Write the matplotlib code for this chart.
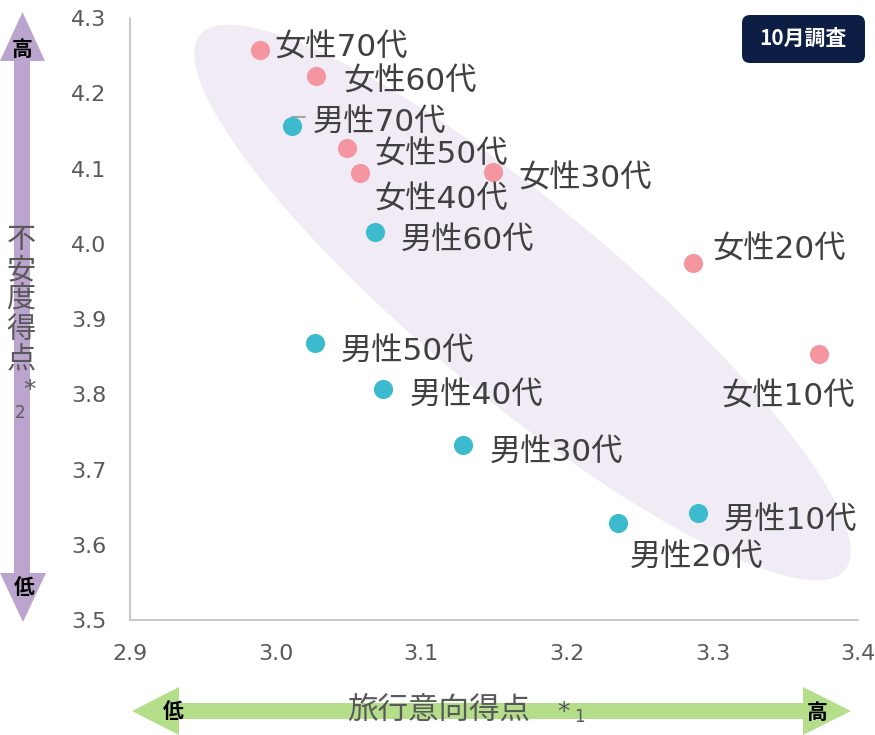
import matplotlib
matplotlib.use("Agg")
import matplotlib.pyplot as plt
from matplotlib.patches import Ellipse, Polygon, FancyBboxPatch

# ---- data ----
female_labels = ["女性70代", "女性60代", "女性50代", "女性40代", "女性30代", "女性20代", "女性10代"]
female_x = [2.989, 3.028, 3.049, 3.058, 3.149, 3.287, 3.373]
female_y = [4.257, 4.223, 4.127, 4.094, 4.095, 3.974, 3.853]

male_labels = ["男性70代", "男性60代", "男性50代", "男性40代", "男性30代", "男性20代", "男性10代"]
male_x = [3.011, 3.068, 3.027, 3.074, 3.129, 3.235, 3.290]
male_y = [4.156, 4.016, 3.868, 3.807, 3.733, 3.629, 3.642]

x_ticks = [2.9, 3.0, 3.1, 3.2, 3.3, 3.4]
y_ticks = [3.5, 3.6, 3.7, 3.8, 3.9, 4.0, 4.1, 4.2, 4.3]

x_title = "旅行意向得点"
y_title = "不安度得点"
badge_text = "10月調査"

# label offsets in pixels (layout)
female_off = [(15, 2), (27, -6), (27, -7), (14, -27), (26, -7), (19, 13), (-97, -43)]
male_off = [(21, 4), (26, -9), (26, -8), (26, -6), (26, -8), (12, -34), (26, -7)]

W, H = 875, 735
fig = plt.figure(figsize=(W / 100, H / 100), dpi=100)
plt.rcParams['font.family'] = ['DejaVu Sans', 'Noto Sans CJK JP']
CJK = ['Noto Sans CJK JP', 'DejaVu Sans']

ax = fig.add_axes([130 / W, 1 - 620 / H, 728 / W, 602 / H])
ax.set_xlim(2.9, 3.4)
ax.set_ylim(3.5, 4.3)
ax.set_xticks(x_ticks)
ax.set_yticks(y_ticks)
ax.set_xticklabels([f"{v:.1f}" for v in x_ticks])
ax.set_yticklabels([f"{v:.1f}" for v in y_ticks])
ax.tick_params(length=0, labelsize=16, colors='#595959')
ax.tick_params(axis='x', pad=17)
ax.tick_params(axis='y', pad=17)
for s in ['top', 'right']:
    ax.spines[s].set_visible(False)
for s in ['left', 'bottom']:
    ax.spines[s].set_color('#BFBFBF')
    ax.spines[s].set_linewidth(1.2)

# background ellipse (in inches, figure space)
ell = Ellipse((522.5 / 100, (H - 302.5) / 100), 8.38, 1.94, angle=-39.7,
              facecolor='#F0EBF4', edgecolor='none', transform=fig.dpi_scale_trans,
              zorder=0, clip_on=False)
ax.add_patch(ell)

ax.scatter(female_x, female_y, s=190, color='#F4959F', zorder=3, linewidths=0)
ax.scatter(male_x, male_y, s=190, color='#3DBBCE', zorder=3, linewidths=0)

for lab, x, y, off in zip(female_labels, female_x, female_y, female_off):
    ax.annotate(lab, (x, y), xytext=off, textcoords='offset pixels', ha='left', va='center',
                fontsize=22.5, color='#404040', zorder=4)
for lab, x, y, off in zip(male_labels, male_x, male_y, male_off):
    ax.annotate(lab, (x, y), xytext=off, textcoords='offset pixels', ha='left', va='center',
                fontsize=22.5, color='#404040', zorder=4)

# small leader line for 男性70代
ax.annotate("", xy=(male_x[0], male_y[0]), xytext=(13, 9), textcoords='offset pixels',
            arrowprops=dict(arrowstyle='-', color='#A6A6A6', lw=1.5,
                            connectionstyle='angle,angleA=0,angleB=90,rad=0',
                            shrinkA=0, shrinkB=4), zorder=2)

def px(x, y):
    return x / 100, (H - y) / 100

def add_poly(pts, color):
    fig.patches.append(Polygon([px(*p) for p in pts], closed=True, facecolor=color,
                               edgecolor='none', transform=fig.dpi_scale_trans, figure=fig))

# vertical purple double arrow
add_poly([(22.5, 12), (45, 61), (30, 61), (30, 573), (46, 573), (23, 622),
          (0, 573), (14, 573), (14, 61), (0, 61)], '#BBA5CE')
# horizontal green double arrow
add_poly([(132, 711), (179, 687), (179, 703), (803, 703), (803, 687), (851, 711),
          (803, 735), (803, 719), (179, 719), (179, 735)], '#B5DE8A')

def ftext(x, y, s, **kw):
    fig.text(x / W, 1 - y / H, s, **kw)

ftext(22, 49, "高", ha='center', va='center', fontsize=15, fontweight='bold', color='black', family=CJK)
ftext(24, 588, "低", ha='center', va='center', fontsize=15, fontweight='bold', color='black', family=CJK)
ftext(173, 712, "低", ha='center', va='center', fontsize=15, fontweight='bold', color='black', family=CJK)
ftext(817, 712, "高", ha='center', va='center', fontsize=15, fontweight='bold', color='black', family=CJK)

# y title stacked vertically
ftext(21, 300, "\n".join(y_title), ha='center', va='center', fontsize=21, color='#595959',
      family=CJK, linespacing=1.0)
ftext(30, 390, "*", ha='center', va='center', fontsize=18, color='#595959')
ftext(20, 413, "2", ha='center', va='center', fontsize=12, color='#595959')

# x title
ftext(439, 711, x_title, ha='center', va='center', fontsize=22, color='#595959', family=CJK)
ftext(563, 712, "*", ha='center', va='center', fontsize=18, color='#595959')
ftext(579, 717, "1", ha='center', va='center', fontsize=12, color='#595959')

# badge
bx, by = px(742, 63)
fig.patches.append(FancyBboxPatch((bx, by), 1.23, 0.48, boxstyle='round,pad=0,rounding_size=0.08',
                                  facecolor='#0D1E45', edgecolor='none',
                                  transform=fig.dpi_scale_trans, figure=fig))
ftext(803, 38, badge_text, ha='center', va='center', fontsize=15, fontweight='bold',
      color='white', family=CJK)

fig.savefig("out.png", dpi=100)
